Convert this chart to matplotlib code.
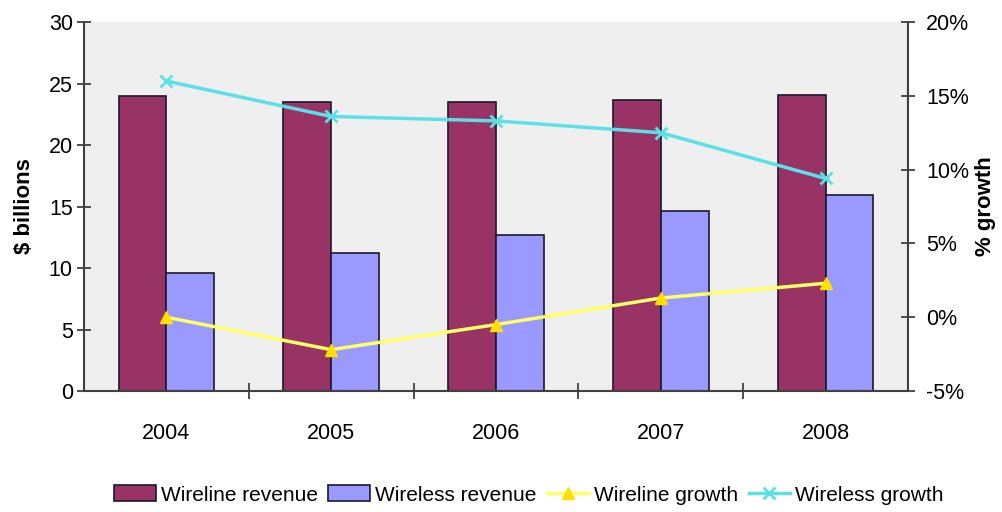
import matplotlib.pyplot as plt
import numpy as np
from matplotlib.ticker import FuncFormatter, FixedLocator

# revenue ($ billions) and growth (%) by year
years = ['2004', '2005', '2006', '2007', '2008']
wireline_rev = [24.0, 23.5, 23.5, 23.7, 24.1]
wireless_rev = [9.6, 11.2, 12.7, 14.6, 15.9]
wireline_growth = [0.0, -2.2, -0.5, 1.3, 2.3]
wireless_growth = [16.0, 13.6, 13.3, 12.5, 9.4]

plt.rcParams['font.family'] = ['Liberation Sans', 'DejaVu Sans']

fig = plt.figure(figsize=(10.02, 5.12), dpi=100)
ax = fig.add_axes([0.0838, 0.2363, 0.8224, 0.7207])
ax.set_facecolor('#EFEFEF')

x = np.arange(len(years))
w = 0.29
b1 = ax.bar(x - w / 2, wireline_rev, w, color='#993366', edgecolor='#1a1a2a', linewidth=1.2,
            label='Wireline revenue')
b2 = ax.bar(x + w / 2, wireless_rev, w, color='#9999FF', edgecolor='#1a1a2a', linewidth=1.2,
            label='Wireless revenue')

ax.set_xlim(-0.5, 4.5)
ax.set_ylim(0, 30)
ax.set_yticks(range(0, 31, 5))
ax.set_xticks(x)
ax.set_xticklabels(years)
ax.xaxis.set_minor_locator(FixedLocator(np.arange(0.5, 4.5, 1)))
ax.tick_params(axis='x', which='major', length=0, pad=23, labelsize=15.5)
ax.tick_params(axis='x', which='minor', length=12, direction='inout', width=1.3, color='#404040')
ax.tick_params(axis='y', length=10, direction='inout', width=1.3, color='#404040', labelsize=15.5, pad=3)
ax.set_ylabel('$ billions', fontsize=16, fontweight='bold', labelpad=10)

ax2 = ax.twinx()
l1, = ax2.plot(x, wireline_growth, color='#FFFF66', lw=2.5, marker='^', markersize=8,
               markerfacecolor='#FFE000', markeredgecolor='#FFE000', label='Wireline growth')
l2, = ax2.plot(x, wireless_growth, color='#5CE0E6', lw=2.5, marker='x', markersize=8,
               markeredgewidth=2, label='Wireless growth')
ax2.set_ylim(-5, 20)
ax2.set_yticks(range(-5, 21, 5))
ax2.yaxis.set_major_formatter(FuncFormatter(lambda v, p: '%d%%' % v))
ax2.tick_params(axis='y', length=10, direction='inout', width=1.3, color='#404040', labelsize=15.5, pad=8)
ax2.set_ylabel('% growth', fontsize=16, fontweight='bold', labelpad=4)

for a in (ax, ax2):
    a.spines['top'].set_visible(False)
    for s in ('left', 'right', 'bottom'):
        a.spines[s].set_color('#404040')
        a.spines[s].set_linewidth(1.5)
ax.spines['right'].set_visible(False)
ax2.spines['left'].set_visible(False)
ax2.spines['bottom'].set_visible(False)

fig.legend(handles=[b1, b2, l1, l2], loc='center', bbox_to_anchor=(0.528, 0.033), ncol=4,
           frameon=False, fontsize=15, handlelength=2.0, handleheight=0.8,
           handletextpad=0.25, columnspacing=0.5)

fig.savefig('out.png', dpi=100)
